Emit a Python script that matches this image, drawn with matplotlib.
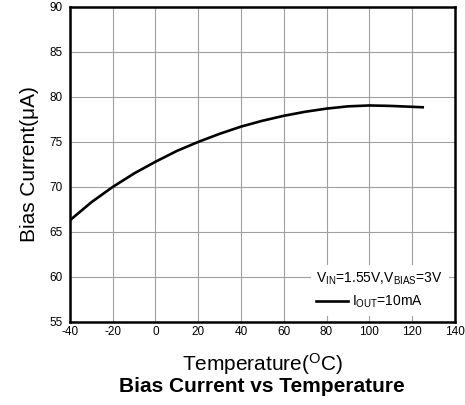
import matplotlib
matplotlib.use('Agg')
import matplotlib.pyplot as plt

plt.rcParams['font.family'] = ['Liberation Sans', 'DejaVu Sans']
plt.rcParams['mathtext.fontset'] = 'custom'
plt.rcParams['mathtext.rm'] = 'Liberation Sans'
plt.rcParams['mathtext.it'] = 'Liberation Sans'
plt.rcParams['axes.unicode_minus'] = False

# Bias current vs temperature
temperature = [-40, -30, -20, -10, 0, 10, 20, 30, 40, 50, 60, 70, 80, 90, 100, 110, 120, 125]
bias_current = [66.3, 68.3, 70.0, 71.5, 72.8, 74.0, 75.0, 75.9, 76.7, 77.35, 77.9, 78.35, 78.7, 78.95, 79.05, 79.0, 78.9, 78.85]

x_ticks = [-40, -20, 0, 20, 40, 60, 80, 100, 120, 140]
y_ticks = [55, 60, 65, 70, 75, 80, 85, 90]

fig = plt.figure(figsize=(4.65, 4.05), dpi=100)
ax = fig.add_axes([0.1505, 0.205, 0.8275, 0.778])

ax.plot(temperature, bias_current, color='black', linewidth=1.9,
        label=r'I$_{\rm OUT}$=10mA')

ax.set_xlim(-40, 140)
ax.set_ylim(55, 90)
ax.set_xticks(x_ticks)
ax.set_yticks(y_ticks)
ax.tick_params(length=0, labelsize=8.5)
ax.tick_params(axis='y', pad=5)
ax.tick_params(axis='x', pad=3)
ax.grid(True, color='#a0a0a0', linewidth=0.8)
for s in ax.spines.values():
    s.set_linewidth(1.8)

ax.set_ylabel('Bias Current(\u03bcA)', fontsize=15, labelpad=8)
ax.set_xlabel(r'Temperature($^{\rm O}$C)', fontsize=15, labelpad=9)
fig.text(0.563, 0.033, 'Bias Current vs Temperature', fontsize=15,
         fontweight='bold', ha='center')

leg = ax.legend(title=r'V$_{\rm IN}$=1.55V,V$_{\rm BIAS}$=3V', loc='lower right',
                fontsize=10, title_fontsize=10, frameon=True, fancybox=False,
                handlelength=2.3, handletextpad=0.25, borderaxespad=0.45,
                framealpha=1, alignment='left')
leg.get_frame().set_edgecolor('white')
leg.get_frame().set_linewidth(0)

fig.savefig('out.png', dpi=100)
